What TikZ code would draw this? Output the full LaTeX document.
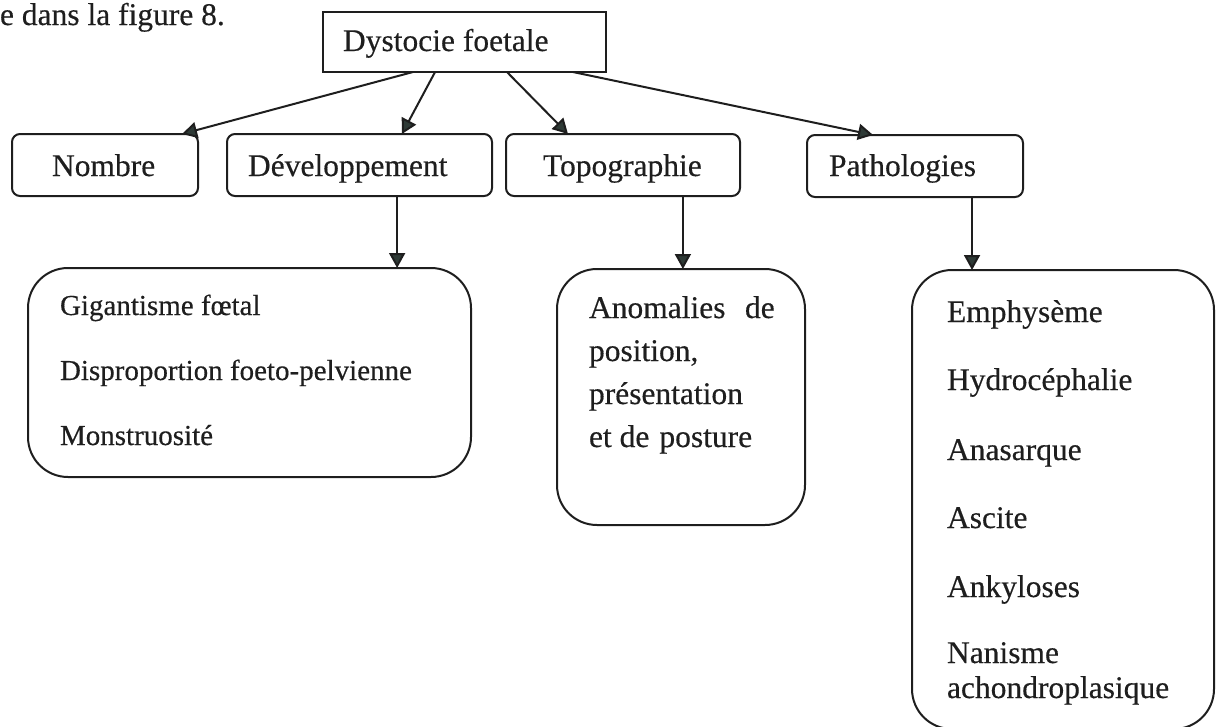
\documentclass[tikz,border=0pt]{standalone}
\usepackage{fontspec}
\setmainfont{Liberation Serif}[FakeBold=0.4]
\usetikzlibrary{arrows.meta,calc}
\definecolor{ink}{HTML}{1E1E1E}
\definecolor{tipc}{HTML}{2E3A36}
\begin{document}
\begin{tikzpicture}[x=1pt,y=-1pt,
  box/.style={draw=ink,line width=2pt,anchor=north west,inner sep=0pt,outer sep=0pt},
  smallbox/.style={box,rounded corners=8pt},
  bigbox/.style={box,rounded corners=40pt},
  txt/.style={anchor=base west,inner sep=0pt,outer sep=0pt,text=ink,font=\fontsize{31.5}{36}\selectfont},
  txts/.style={txt,font=\fontsize{29}{34}\selectfont},
  arr/.style={draw=ink,line width=2pt,-{Triangle[length=15pt,width=16pt,fill=tipc]}}]
\useasboundingbox (0,0) rectangle (1221,726);
% boxes
\node[box,minimum width=283pt,minimum height=60pt] (root) at (323,12) {};
\node[smallbox,minimum width=186pt,minimum height=62pt] (nombre) at (12,134) {};
\node[smallbox,minimum width=265pt,minimum height=62pt] (dev) at (227,134) {};
\node[smallbox,minimum width=234pt,minimum height=62pt] (topo) at (506,134) {};
\node[smallbox,minimum width=216pt,minimum height=62pt] (patho) at (807,135) {};
\node[bigbox,minimum width=443pt,minimum height=209pt] (devc) at (28,268) {};
\node[bigbox,minimum width=248pt,minimum height=256pt] (topoc) at (557,269) {};
\node[bigbox,minimum width=302pt,minimum height=459pt] (pathoc) at (912,270) {};
% texts
\node[txt] (intro) at (0,25) {e dans la figure 8.};
\node[txt] (troot) at (343,51) {Dystocie foetale};
\node[txt] (tnombre) at (52,176) {Nombre};
\node[txt] (tdev) at (248,176) {Développement};
\node[txt] (ttopo) at (543,176) {Topographie};
\node[txt] (tpatho) at (829,176) {Pathologies};
\node[txts] (g1) at (60,315) {Gigantisme fœtal};
\node[txts] (g2) at (60,380) {Disproportion foeto-pelvienne};
\node[txts] (g3) at (60,445) {Monstruosité};
\node[txt] (a1) at (589,318) {Anomalies\hspace{0.62em}de};
\node[txt] (a2) at (589,361) {position,};
\node[txt] (a3) at (589,404) {présentation};
\node[txt] (a4) at (589,447) {et de\hspace{0.32em}posture};
\node[txt] (p1) at (947,322) {Emphysème};
\node[txt] (p2) at (947,390) {Hydrocéphalie};
\node[txt] (p3) at (947,460) {Anasarque};
\node[txt] (p4) at (947,528) {Ascite};
\node[txt] (p5) at (947,597) {Ankyloses};
\node[txt] (p6) at (947,663) {Nanisme};
\node[txt] (p7) at (947,698) {achondroplasique};
% connectors
\draw[arr] ($(root.south west)!0.318!(root.south east)$) -- ($(nombre.north west)!0.914!(nombre.north east)$);
\draw[arr] ($(root.south west)!0.396!(root.south east)$) -- ($(dev.north west)!0.66!(dev.north east)$);
\draw[arr] ($(root.south west)!0.650!(root.south east)$) -- ($(topo.north west)!0.265!(topo.north east)$);
\draw[arr] ($(root.south west)!0.883!(root.south east)$) -- ($(patho.north west)!0.306!(patho.north east)$);
\coordinate (d1) at ($(dev.south west)!0.642!(dev.south east)$);
\coordinate (d2) at ($(topo.south west)!0.756!(topo.south east)$);
\coordinate (d3) at ($(patho.south west)!0.764!(patho.south east)$);
\draw[arr] (d1) -- (d1 |- devc.north);
\draw[arr] (d2) -- (d2 |- topoc.north);
\draw[arr] (d3) -- (d3 |- pathoc.north);
\end{tikzpicture}
\end{document}
